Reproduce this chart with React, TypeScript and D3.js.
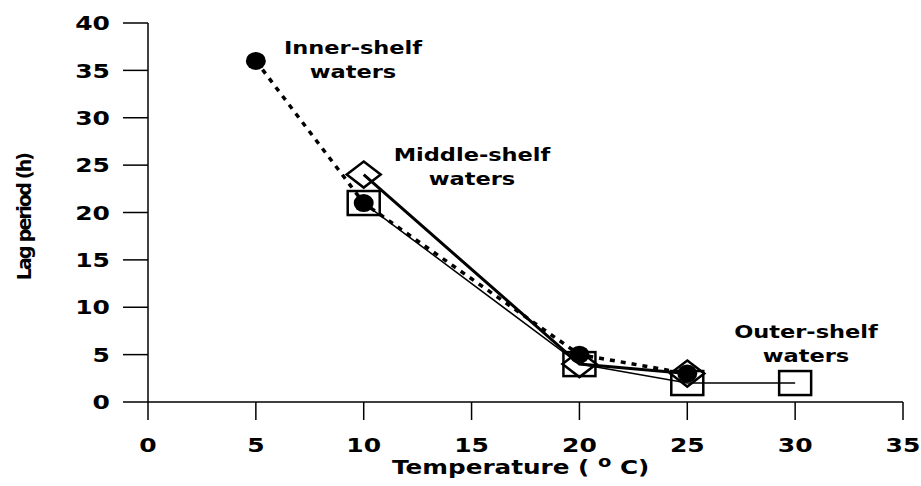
import React from "react";
import * as d3 from "d3";

const innerX = [5, 10, 20, 25];
const innerY = [36, 21, 5, 3];
const middleX = [10, 20, 25];
const middleY = [24, 4, 3];
const outerX = [10, 20, 25, 30];
const outerY = [21, 4, 2, 2];
const xTicks = [0, 5, 10, 15, 20, 25, 30, 35];
const yTicks = [0, 5, 10, 15, 20, 25, 30, 35, 40];
const labels = [
  { lines: ["Inner-shelf", "waters"], x: 353, y: 54 },
  { lines: ["Middle-shelf", "waters"], x: 472, y: 161 },
  { lines: ["Outer-shelf", "waters"], x: 806, y: 338 },
];

const W = 921, H = 486;
const font = "'DejaVu Sans', Arial, sans-serif";

function SText(props: { x: number; y: number; sx: number; size: number; anchor: string; dy?: string; children: React.ReactNode }) {
  return (
    <text transform={`translate(${props.x},${props.y}) scale(${props.sx},1)`} dy={props.dy}
      textAnchor={props.anchor} fontFamily={font} fontWeight="bold" fontSize={props.size}>
      {props.children}
    </text>
  );
}

export default function App() {
  const x = d3.scaleLinear().domain([0, 35]).range([148, 903]);
  const y = d3.scaleLinear().domain([0, 40]).range([402, 23]);
  const line = d3.line<[number, number]>().x(d => x(d[0])).y(d => y(d[1]));
  const inner = innerX.map((v, i) => [v, innerY[i]] as [number, number]);
  const middle = middleX.map((v, i) => [v, middleY[i]] as [number, number]);
  const outer = outerX.map((v, i) => [v, outerY[i]] as [number, number]);

  return (
    <svg width={W} height={H} style={{ position: "absolute", left: 0, top: 0, background: "#fff" }}>
      {/* axes */}
      <line x1={x(0)} x2={x(0)} y1={y(40)} y2={y(0)} stroke="#000" strokeWidth={1.5} />
      <line x1={x(0)} x2={x(35)} y1={y(0)} y2={y(0)} stroke="#000" strokeWidth={1.5} />
      {yTicks.map(t => (
        <g key={"y" + t}>
          <line x1={x(0) - 25} x2={x(0)} y1={y(t)} y2={y(t)} stroke="#000" strokeWidth={1.5} />
          <SText x={110} y={y(t)} dy="0.36em" sx={1.25} size={20} anchor="end">{t}</SText>
        </g>
      ))}
      {xTicks.map(t => (
        <g key={"x" + t}>
          <line x1={x(t)} x2={x(t)} y1={y(0)} y2={y(0) + 18} stroke="#000" strokeWidth={1.5} />
          <SText x={x(t)} y={452} sx={1.25} size={20} anchor="middle">{t}</SText>
        </g>
      ))}
      <SText x={392} y={474} sx={1.3} size={19} anchor="start">
        Temperature ( <tspan dy={-7} fontSize={15}>o</tspan><tspan dy={7}> C)</tspan>
      </SText>
      <text transform="translate(31,217) rotate(-90)" textAnchor="middle" fontFamily={font} fontWeight="bold" fontSize={19} letterSpacing={-1.8}>
        Lag period (h)
      </text>

      {/* lines */}
      <path d={line(outer) || ""} fill="none" stroke="#000" strokeWidth={1.5} />
      <path d={line(middle) || ""} fill="none" stroke="#000" strokeWidth={3} />
      <path d={line(inner) || ""} fill="none" stroke="#000" strokeWidth={3.5} strokeDasharray="5,6" />

      {/* outer squares */}
      {outer.map((d, i) => (
        <rect key={"s" + i} x={x(d[0]) - 16} y={y(d[1]) - 12} width={32} height={24} fill="none" stroke="#000" strokeWidth={2.5} />
      ))}
      {/* inner circles */}
      {inner.map((d, i) => (
        <ellipse key={"c" + i} cx={x(d[0])} cy={y(d[1])} rx={10} ry={9} fill="#000" />
      ))}
      {/* middle diamonds */}
      {middle.map((d, i) => (
        <path key={"d" + i}
          d={`M${x(d[0])},${y(d[1]) - 13} L${x(d[0]) + 17},${y(d[1])} L${x(d[0])},${y(d[1]) + 13} L${x(d[0]) - 17},${y(d[1])} Z`}
          fill="none" stroke="#000" strokeWidth={2.5} />
      ))}

      {labels.map((l, i) => (
        <g key={"l" + i}>
          {l.lines.map((s, j) => (
            <SText key={j} x={l.x} y={l.y + j * 24} sx={1.25} size={18} anchor="middle">{s}</SText>
          ))}
        </g>
      ))}
    </svg>
  );
}
